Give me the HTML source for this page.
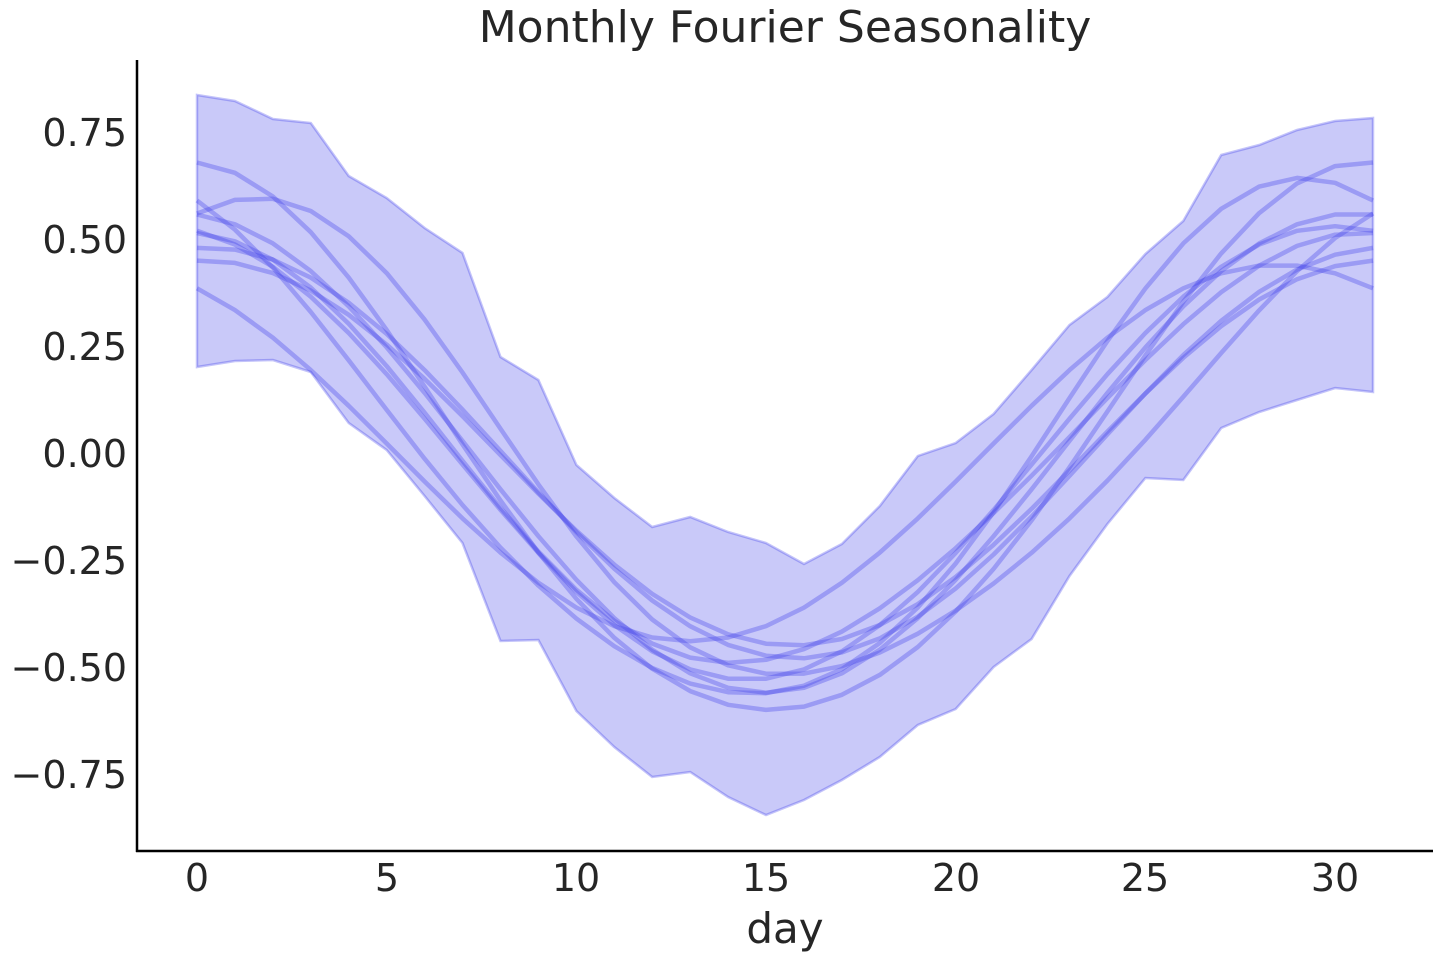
<!DOCTYPE html>
<html><head><meta charset="utf-8"><style>
body{margin:0;background:#fff;}
svg text{font-family:"DejaVu Sans","Liberation Sans",sans-serif;fill:#262626;}
</style></head><body>
<svg id="s" width="1440" height="960" xmlns="http://www.w3.org/2000/svg">
<text x="785" y="42" font-size="44" text-anchor="middle">Monthly Fourier Seasonality</text>
<path id="band" fill="rgba(20,20,230,0.23)" stroke="rgba(20,20,230,0.25)" stroke-width="2.5"/>
<g id="lines" fill="none" stroke="rgba(60,60,235,0.33)" stroke-width="4.5" stroke-linejoin="round"></g>
<line x1="137" y1="60" x2="137" y2="852" stroke="#000" stroke-width="2.5"/>
<line x1="136" y1="851" x2="1433" y2="851" stroke="#000" stroke-width="2.5"/>
<g font-size="38" text-anchor="end">
<text x="127" y="146">0.75</text><text x="127" y="253">0.50</text><text x="127" y="360">0.25</text><text x="127" y="467">0.00</text><text x="127" y="574">−0.25</text><text x="127" y="681">−0.50</text><text x="127" y="788">−0.75</text>
</g>
<g font-size="38" text-anchor="middle">
<text x="197" y="891">0</text><text x="387" y="891">5</text><text x="576" y="891">10</text><text x="766" y="891">15</text><text x="956" y="891">20</text><text x="1145" y="891">25</text><text x="1335" y="891">30</text>
<text x="785" y="943" font-size="42">day</text>
</g>
</svg>
<script>
var X=d=>197+d*37.935, Y=v=>453-v*428;
var up=[95,101,119,123,176,198,228,253,357,380,465,498,527,517,532,543,564,544,506,456,443,414,370,325,297,254,221,155,145,130,121,118];
var lo=[367,361,360,372,423,450,496,543,641,640,711,747,777,772,797,815,800,780,757,725,709,667,639,576,524,478,480,428,412,400,388,392];
var p="M"+up.map((y,i)=>X(i).toFixed(1)+","+y).join("L");
for(var i=31;i>=0;i--)p+="L"+X(i).toFixed(1)+","+lo[i];
document.getElementById("band").setAttribute("d",p+"Z");
var P=[[0.64,-0.3,0.04,0],[0.44,-2.5,0,0],[0.60,-1.5,0.05,-3],[0.56,-0.5,0,0],[0.50,-0.8,0.03,2],[0.48,0.3,0,0],[0.45,0.2,0,0],[0.55,1,0.06,3],[0.53,-1,0,0]];
var g=document.getElementById("lines"),h="";
P.forEach(q=>{var s="";for(var d=0;d<=31;d++){var v=q[0]*Math.cos(2*Math.PI*(d-q[1])/31)+q[2]*Math.cos(4*Math.PI*(d-q[3])/31);s+=(d?"L":"M")+X(d).toFixed(1)+","+Y(v).toFixed(1);}h+='<path d="'+s+'"/>';});
g.innerHTML=h;
</script>
</body></html>
